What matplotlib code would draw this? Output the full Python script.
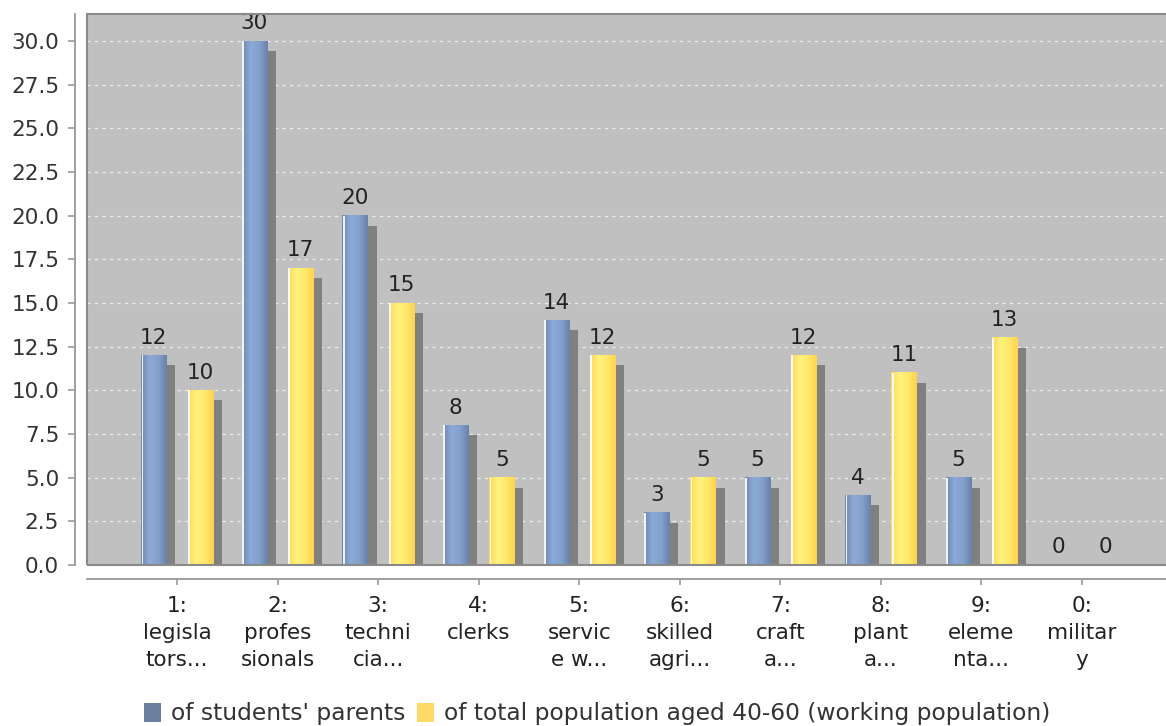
import numpy as np
import matplotlib
matplotlib.use('Agg')
import matplotlib.pyplot as plt
from matplotlib.patches import Patch, Rectangle
from matplotlib.colors import LinearSegmentedColormap

# data
categories = ['1:\nlegisla\ntors...', '2:\nprofes\nsionals', '3:\ntechni\ncia...',
              '4:\nclerks\n', '5:\nservic\ne w...', '6:\nskilled\nagri...',
              '7:\ncraft\na...', '8:\nplant\na...', '9:\neleme\nnta...',
              '0:\nmilitar\ny']
parents = [12, 30, 20, 8, 14, 3, 5, 4, 5, 0]
population = [10, 17, 15, 5, 12, 5, 12, 11, 13, 0]
series_names = ["of students' parents", "of total population aged 40-60 (working population)"]

blue_cmap = LinearSegmentedColormap.from_list(
    'b', ['#6f87ad', '#8cabd8', '#84a0cc', '#6a82a8'])
yellow_cmap = LinearSegmentedColormap.from_list(
    'y', ['#ffd85a', '#fff27e', '#ffe86a', '#ffd24e'])

BAR_W = 0.25
OFF = 0.23
SHADOW_DX = 0.09
SHADOW_DY = 0.57


def gradient_bar(ax, x, h, cmap):
    if h <= 0:
        return
    grad = np.linspace(0, 1, 64).reshape(1, -1)
    ax.imshow(grad, cmap=cmap, extent=[x - BAR_W / 2, x + BAR_W / 2, 0, h],
              aspect='auto', zorder=3, interpolation='bicubic')
    # thin white highlight near the left edge
    ax.bar(x - BAR_W / 2 + 0.012, h, width=0.018, color='white', alpha=0.9,
           zorder=4, linewidth=0)


def main():
    fig = plt.figure(figsize=(11.66, 7.26), dpi=100)
    ax = fig.add_axes([87 / 1166, 1 - 565 / 726, 1 - 87 / 1166, (565 - 14) / 726])
    ax.set_facecolor('#c0c0c0')

    x = np.arange(len(categories))
    xb = x - OFF
    xy = x + OFF

    # shadows
    ax.bar(xb + SHADOW_DX, parents, width=BAR_W, bottom=-SHADOW_DY,
           color='#808080', zorder=2, linewidth=0)
    ax.bar(xy + SHADOW_DX, population, width=BAR_W, bottom=-SHADOW_DY,
           color='#808080', zorder=2, linewidth=0)

    for xi, v in zip(xb, parents):
        gradient_bar(ax, xi, v, blue_cmap)
    for xi, v in zip(xy, population):
        gradient_bar(ax, xi, v, yellow_cmap)

    for xi, v in zip(xb, parents):
        ax.annotate(str(v), (xi, v), xytext=(0, 5.5), textcoords='offset points',
                    ha='center', va='bottom', fontsize=15.5, color='#222222', zorder=6)
    for xi, v in zip(xy, population):
        ax.annotate(str(v), (xi, v), xytext=(0, 5.5), textcoords='offset points',
                    ha='center', va='bottom', fontsize=15.5, color='#222222', zorder=6)

    ax.set_xlim(-0.895, 9.835)
    ax.set_ylim(0, 31.55)

    ax.set_yticks(np.arange(0, 30.1, 2.5))
    ax.set_yticklabels(['%.1f' % t for t in np.arange(0, 30.1, 2.5)])
    ax.set_xticks(x)
    ax.set_xticklabels(categories)

    ax.grid(axis='y', color='#eeeeee', linestyle=(0, (2.5, 3.5)), linewidth=0.9, zorder=1)
    ax.set_axisbelow(True)

    for s in ['top', 'right']:
        ax.spines[s].set_visible(False)
    ax.spines['left'].set_position(('outward', 9))
    ax.spines['bottom'].set_position(('outward', 10))
    ax.spines['left'].set_color('#999999')
    ax.spines['bottom'].set_color('#999999')
    ax.spines['left'].set_linewidth(1.3)
    ax.spines['bottom'].set_linewidth(1.3)

    # plot area border
    border = Rectangle((0, 0), 1.01, 1, transform=ax.transAxes, fill=False,
                       edgecolor='#8a8a8a', linewidth=1.5, clip_on=False, zorder=7)
    ax.add_patch(border)

    ax.tick_params(axis='y', direction='out', length=5, width=1.2, color='#999999',
                   labelsize=15.5, labelcolor='#333333', pad=6)
    ax.tick_params(axis='x', direction='out', length=4, width=1.2, color='#999999',
                   labelsize=15.5, labelcolor='#222222', pad=8)
    for lbl in ax.get_xticklabels():
        lbl.set_linespacing(1.45)

    handles = [Patch(facecolor='#6c7fa0', edgecolor='none'),
               Patch(facecolor='#ffd966', edgecolor='none')]
    fig.legend(handles, series_names, loc='lower center', bbox_to_anchor=(0.512, -0.028),
               ncol=2, frameon=False, fontsize=16.8, handlelength=0.75,
               handleheight=0.9, handletextpad=0.4, columnspacing=0.5,
               labelcolor='#333333')

    fig.savefig('out.png', dpi=100)


if __name__ == '__main__':
    main()
